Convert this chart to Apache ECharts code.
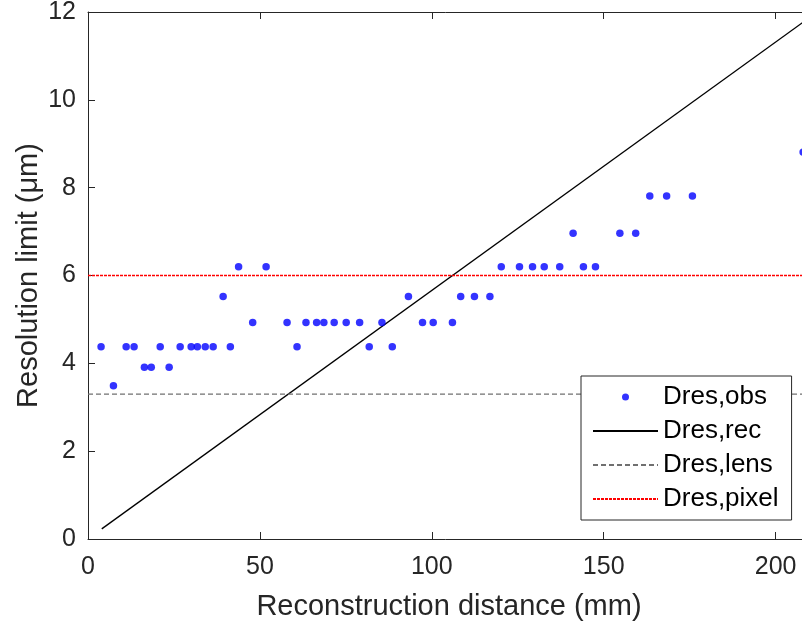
<!DOCTYPE html>
<html>
<head>
    <meta charset="utf-8">
    <title>Resolution limit</title>
    <script src="https://cdn.jsdelivr.net/npm/echarts@6/dist/echarts.min.js"></script>
    <style>
        html, body { margin: 0; padding: 0; background: #fff; }
        #main { width: 802px; height: 623px; }
    </style>
</head>
<body>
    <div id="main"></div>
    <script>
        // measured points (reconstruction distance mm, resolution limit um)
        var obsX = [3.8, 7.4, 11.1, 13.4, 16.4, 18.4, 21.0, 23.6, 26.8, 30.0, 31.8, 34.1, 36.4, 39.3, 41.4,
            43.8, 47.9, 51.8, 57.9, 60.8, 63.4, 66.5, 68.6, 71.6, 75.1, 79.0, 81.8, 85.5, 88.5, 93.2,
            97.3, 100.4, 106.0, 108.4, 112.4, 116.9, 120.2, 125.5, 129.3, 132.7, 137.2, 141.1, 144.1,
            147.6, 154.7, 159.3, 163.4, 168.3, 175.8, 208.0];
        var obsY = [4.38, 3.49, 4.38, 4.38, 3.91, 3.91, 4.38, 3.91, 4.38, 4.38, 4.38, 4.38, 4.38, 5.52, 4.38,
            6.20, 4.93, 6.20, 4.93, 4.38, 4.93, 4.93, 4.93, 4.93, 4.93, 4.93, 4.38, 4.93, 4.38, 5.52,
            4.93, 4.93, 4.93, 5.52, 5.52, 5.52, 6.20, 6.20, 6.20, 6.20, 6.20, 6.96, 6.20,
            6.20, 6.96, 6.96, 7.81, 7.81, 7.81, 8.81];
        // Dres,rec line end points
        var recX = [4.0, 210.0];
        var recY = [0.23, 11.88];
        var lensValue = 3.3;
        var pixelValue = 6.0;
        var xRange = [0, 210];
        var yRange = [0, 12];

        var font = 'Liberation Sans, Arial, sans-serif';
        var axisColor = '#262626';

        function pairs(xs, ys) {
            return xs.map(function (x, i) { return [x, ys[i]]; });
        }

        var myChart = echarts.init(document.getElementById('main'));

        var option = {
            backgroundColor: '#fff',
            animation: false,
            grid: { left: 88, right: -8, top: 12, bottom: 84, outerBoundsMode: 'none' },
            xAxis: [{
                type: 'value',
                min: xRange[0], max: xRange[1], interval: 50,
                name: 'Reconstruction distance (mm)',
                nameLocation: 'middle', nameGap: 53,
                nameTextStyle: { fontFamily: font, fontSize: 29, color: axisColor },
                axisLine: { show: true, onZero: false, lineStyle: { color: axisColor, width: 1 } },
                axisTick: { inside: true, length: 7, lineStyle: { color: axisColor } },
                axisLabel: {
                    fontFamily: font, fontSize: 25, color: axisColor, margin: 16,
                    showMaxLabel: false,
                    formatter: function (v) { return v % 50 === 0 ? v : ''; }
                },
                splitLine: { show: false }
            }, {
                type: 'value', position: 'top',
                min: xRange[0], max: xRange[1], interval: 50,
                axisLine: { show: true, onZero: false, lineStyle: { color: axisColor, width: 1 } },
                axisTick: { inside: true, length: 7, lineStyle: { color: axisColor } },
                axisLabel: { show: false },
                splitLine: { show: false }
            }],
            yAxis: {
                type: 'value',
                min: yRange[0], max: yRange[1], interval: 2,
                name: 'Resolution limit (μm)',
                nameLocation: 'middle', nameGap: 45,
                nameMoveOverlap: false,
                nameTextStyle: { fontFamily: font, fontSize: 29, color: axisColor },
                axisLine: { show: true, onZero: false, lineStyle: { color: axisColor, width: 1 } },
                axisTick: { inside: true, length: 7, lineStyle: { color: axisColor } },
                axisLabel: { fontFamily: font, fontSize: 25, color: axisColor, margin: 12 },
                splitLine: { show: false }
            },
            legend: {
                orient: 'vertical',
                left: 581, top: 376,
                padding: [7, 13, 7, 11],
                itemWidth: 65, itemHeight: 7, itemGap: 6,
                borderColor: '#262626', borderWidth: 1,
                backgroundColor: '#fff',
                textStyle: { fontFamily: font, fontSize: 26, color: '#000', lineHeight: 28 },
                data: [
                    { name: 'Dres,obs', icon: 'circle' },
                    { name: 'Dres,rec', itemStyle: { opacity: 0 } },
                    { name: 'Dres,lens', itemStyle: { opacity: 0 } },
                    { name: 'Dres,pixel', itemStyle: { opacity: 0 } }
                ]
            },
            series: [{
                name: 'Dres,obs',
                type: 'scatter',
                data: pairs(obsX, obsY),
                symbolSize: 7.5,
                itemStyle: { color: '#0000ff' },
                z: 3
            }, {
                name: 'Dres,rec',
                type: 'line',
                data: pairs(recX, recY),
                symbol: 'none',
                lineStyle: { color: '#000', width: 1.3 },
                itemStyle: { color: '#000' },
                z: 2
            }, {
                name: 'Dres,lens',
                type: 'line',
                data: pairs(xRange, [lensValue, lensValue]),
                symbol: 'none',
                lineStyle: { color: '#707070', width: 1.2, type: [5, 3] },
                itemStyle: { color: '#707070' },
                z: 2
            }, {
                name: 'Dres,pixel',
                type: 'line',
                data: pairs(xRange, [pixelValue, pixelValue]),
                symbol: 'none',
                lineStyle: { color: '#ff0000', width: 1.5, type: [3, 1] },
                itemStyle: { color: '#ff0000' },
                z: 2
            }]
        };
        myChart.setOption(option);
    </script>
</body>
</html>
